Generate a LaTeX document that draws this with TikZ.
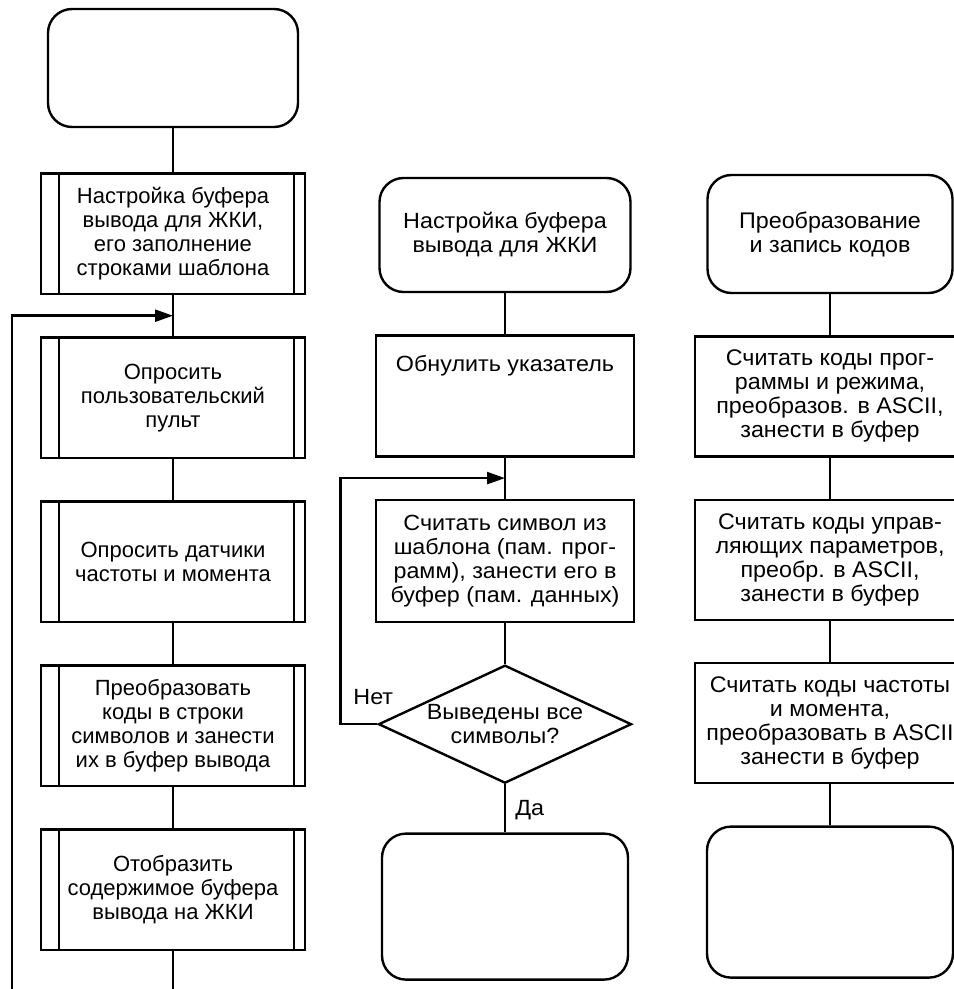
\documentclass[tikz,border=0pt]{standalone}
\usepackage{fontspec}
\setmainfont{Liberation Sans}
\newfontfamily\midsans{Liberation Sans}[FakeStretch=1.06]
\newfontfamily\widesans{Liberation Sans}[FakeStretch=1.03]
\usetikzlibrary{positioning,shapes.geometric,arrows.meta,calc}
\tikzset{
  base/.style={draw,line width=1.2pt,align=center,inner sep=2pt,font=\fontsize{11}{12}\selectfont},
  term/.style={base,rectangle,rounded corners=12pt},
  proc/.style={base,rectangle,minimum width=129pt,minimum height=61pt,font=\midsans\fontsize{11}{12}\selectfont},
  subproc/.style={base,rectangle,minimum width=132pt,minimum height=60.3pt},
  wideproc/.style={proc,minimum width=135pt,minimum height=60pt,inner sep=1pt,font=\widesans\fontsize{11.3}{12}\selectfont},
  decide/.style={base,diamond,aspect=2.14,inner sep=0pt,minimum width=126.5pt,minimum height=59pt,font=\midsans\fontsize{11}{12}\selectfont},
  lbl/.style={font=\midsans\fontsize{11}{12}\selectfont,inner sep=0pt},
  flow/.style={line width=1.2pt},
  >={Triangle[length=9pt,width=6pt]},
}

\begin{document}
\begin{tikzpicture}[x=0.5pt,y=-0.5pt,node distance=20.5pt]
  \useasboundingbox (0,0) rectangle (953,989);

  % main loop
  \node[term,minimum width=125pt,minimum height=59pt] (start) at (173,68) {};
  \node[subproc,below=22pt of start] (setup) {Настройка буфера\\вывода для ЖКИ,\\его заполнение\\строками шаблона};
  \node[subproc,below=of setup] (poll)  {Опросить\\пользовательский\\пульт};
  \node[subproc,below=of poll]  (sense) {Опросить датчики\\частоты и момента};
  \node[subproc,below=of sense] (conv)  {Преобразовать\\коды в строки\\символов и занести\\их в буфер вывода};
  \node[subproc,below=of conv]  (show)  {Отобразить\\содержимое буфера\\вывода на ЖКИ};
  \foreach \n in {setup,poll,sense,conv,show}
    \draw[flow] ([xshift=9.5pt]\n.north west) -- ([xshift=9.5pt]\n.south west)
                ([xshift=-6pt]\n.north east) -- ([xshift=-6pt]\n.south east);

  % buffer setup
  \node[term,minimum width=125.5pt,minimum height=57pt,font=\midsans\fontsize{11}{12}\selectfont] (mterm) at (505,235) {Настройка буфера\\вывода для ЖКИ};
  \node[proc,below=of mterm,minimum height=60.5pt,text depth=32pt] (clear) {Обнулить указатель};
  \node[proc,below=of clear] (read)  {Считать символ из\\шаблона (пам. прог-\\рамм), занести его в\\буфер (пам. данных)};
  \node[decide,below=of read] (check) {Выведены все\\символы?};
  \node[term,below=24pt of check,minimum width=123pt,minimum height=73pt] (mend) {};

  % code conversion
  \node[term,minimum width=122.5pt,minimum height=59pt,font=\widesans\fontsize{11.3}{12}\selectfont] (rterm) at (830,234) {Преобразование\\и запись кодов};
  \node[wideproc,below=of rterm] (prog) {Считать коды прог-\\раммы и режима,\\преобразов. в ASCII,\\занести в буфер};
  \node[wideproc,below=of prog]  (ctrl) {Считать коды управ-\\ляющих параметров,\\преобр. в ASCII,\\занести в буфер};
  \node[wideproc,below=of ctrl]  (freq) {Считать коды частоты\\и момента,\\преобразовать в ASCII\\занести в буфер};
  \node[term,below=of freq,minimum width=123pt,minimum height=75.5pt] (rend) {};

  \coordinate (lbot)  at (173,989);
  \coordinate (lloop) at (12,989);
  \coordinate (ljoin) at ($(setup.south)!.5!(poll.north)$);
  \coordinate (mjoin) at ($(clear.south)!.5!(read.north)$);

  \path[flow]
    (start) edge (setup)
    (setup) edge (poll)
    (poll)  edge (sense)
    (sense) edge (conv)
    (conv)  edge (show)
    (show)  edge (lbot)
    (mterm) edge (clear)
    (clear) edge (read)
    (read)  edge (check)
    (check) edge (mend)
    (rterm) edge (prog)
    (prog)  edge (ctrl)
    (ctrl)  edge (freq)
    (freq)  edge (rend);
  \draw[flow,->] (lloop) |- (ljoin);
  \draw[flow,->] (check.west) -- ++(-37,0) |- (mjoin);

  \node[lbl,anchor=base] (no) at ([xshift=-2pt,yshift=10pt]check.west) {Нет};
  \node[lbl,anchor=base west] (yes) at ([xshift=5pt,yshift=-15.5pt]check.south) {Да};
\end{tikzpicture}
\end{document}
